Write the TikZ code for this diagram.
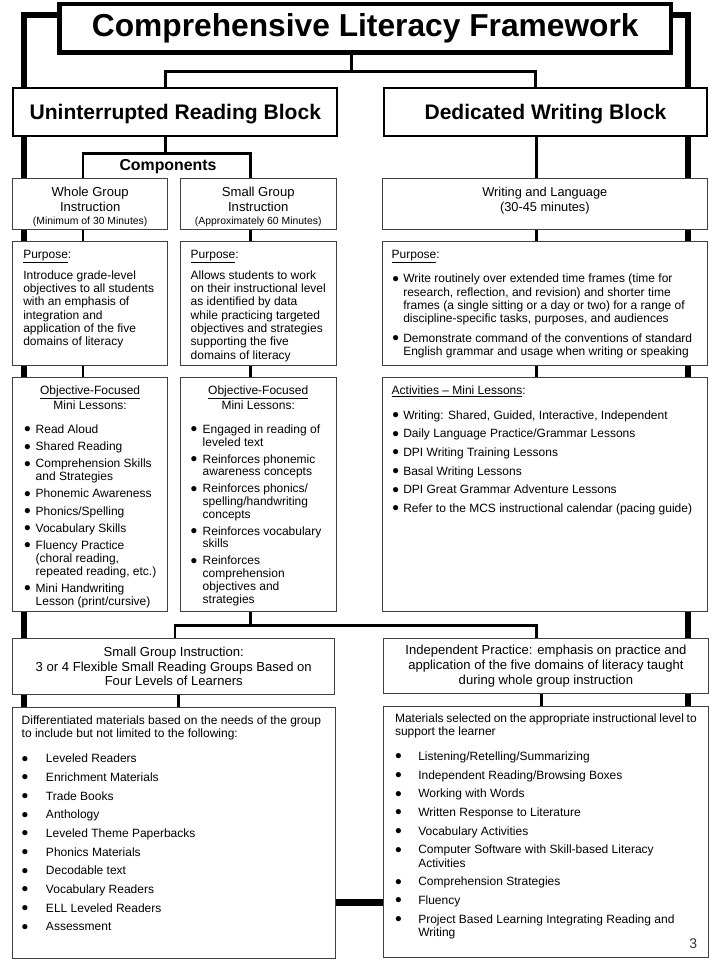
\documentclass[tikz,border=0pt]{standalone}
\usepackage{graphicx}
\usepackage{fontspec}
\setmainfont{Liberation Sans}
\usetikzlibrary{backgrounds}
\newlength{\pxu}\setlength{\pxu}{0.75pt}
\newlength{\itmind}\newlength{\itmgap}\newlength{\itmoff}
\newcommand{\bodyfont}{\fontsize{9}{10}\selectfont}
\newcommand{\introfont}{\fontsize{9.8}{11.25}\selectfont}
\newcommand{\dotmark}{\raisebox{-0.2em}{\scalebox{1.6}{\textbullet}}}
\newcommand{\itm}[2][\itmgap]{\par\vspace{#1}\noindent\hangindent=\itmind\hangafter=1\makebox[\itmind][l]{\hspace*{\itmoff}\dotmark}#2}
% font, width, height, top gap (px), text
\newcommand{\cellbox}[5]{\begin{minipage}[c][#3\pxu][t]{#2\pxu}#1\vspace*{#4\pxu}\strut#5\end{minipage}}
\tikzset{
  framerule/.style={line width=5pt, draw=black},
  link/.style={line width=2pt, draw=black},
  titlenode/.style={draw=black, fill=white, line width=3.6pt, inner sep=0pt, outer sep=0pt, anchor=north west, font=\fontsize{23.8}{28}\selectfont\bfseries},
  blocknode/.style={draw=black, fill=white, line width=1.5pt, inner sep=0pt, outer sep=0pt, anchor=north west, text depth=0pt, font=\fontsize{15.8}{19}\selectfont\bfseries},
  panel/.style={draw=black!75, fill=white, line width=0.75pt, inner ysep=0pt, inner xsep=10\pxu, outer sep=0pt, anchor=north west},
  levelnode/.style={panel, inner sep=0pt, align=center, font=\fontsize{9.8}{11}\selectfont}
}
\begin{document}
\begin{tikzpicture}[x=0.75pt, y=-0.75pt]
  \useasboundingbox (0,0) rectangle (720,960);
  % header and the two blocks
  \node[titlenode, minimum width=611.5\pxu, minimum height=48.8\pxu] (title) at (59.55,3.95) {Comprehensive Literacy Framework};
  \node[blocknode, minimum width=324\pxu, minimum height=48\pxu] (rdblock) at (13.3,88.3) {Uninterrupted Reading Block};
  \node[blocknode, minimum width=323.6\pxu, minimum height=48\pxu] (wrblock) at (383.7,88.3) {Dedicated Writing Block};
  \node[font=\fontsize{11.9}{14}\selectfont\bfseries, anchor=base] (comps) at (168,170.5) {Components};
  % first row
  \node[panel, inner xsep=8\pxu] (wgintro) at (12.8,178.8) {\cellbox{\introfont}{138.7}{50.7}{6.7}{{\centering Whole Group\\Instruction\\[-1.5pt]{\fontsize{7.8}{9}\selectfont(Minimum of 30 Minutes)}\par}}};
  \node[panel, inner xsep=8\pxu] (sgintro) at (180.5,178.8) {\cellbox{\introfont}{139.5}{50.7}{6.7}{{\centering Small Group\\Instruction\\[-1.5pt]{\fontsize{7.8}{9}\selectfont(Approximately 60 Minutes)}\par}}};
  \node[panel, inner xsep=8\pxu] (wlintro) at (382.2,178.8) {\cellbox{\fontsize{9.6}{11.25}\selectfont}{309.3}{50.7}{6.7}{{\centering Writing and Language\\(30-45 minutes)\par}}};
  % purpose row
  \node[panel, inner xsep=10.5\pxu] (wgpurp) at (12.8,241.5) {\cellbox{\bodyfont}{133.7}{124}{7.2}{\underline{Purpose}:\par\vspace{4.5pt}Introduce grade-level\\objectives to all students\\with an emphasis of\\integration and\\application of the five\\domains of literacy}};
  \node[panel, inner xsep=10.2\pxu] (sgpurp) at (180.5,241.5) {\cellbox{\bodyfont}{135.1}{124}{7.2}{\underline{Purpose}:\par\vspace{4.5pt}Allows students to work\\on their instructional level\\as identified by data\\while practicing targeted\\objectives and strategies\\supporting the five\\domains of literacy}};
  \node[panel, inner xsep=9.5\pxu] (wlpurp) at (382.2,241.5) {\cellbox{\bodyfont}{306.3}{124}{7.2}{\setlength{\itmind}{11.6\pxu}\setlength{\itmoff}{0.6\pxu}\setlength{\itmgap}{4.5pt}\underline{Purpose}:\itm[7.25pt]{Write routinely over extended time frames (time for\\research, reflection, and revision) and shorter time\\frames (a single sitting or a day or two) for a range of\\discipline-specific tasks, purposes, and audiences}\itm{Demonstrate command of the conventions of standard\\English grammar and usage when writing or speaking}}};
  % mini lesson row
  \node[panel, inner xsep=11.2\pxu] (wgobj) at (12.8,377.2) {\cellbox{\bodyfont}{132.3}{234.3}{7.5}{\setlength{\itmind}{11.7\pxu}\setlength{\itmoff}{0pt}\setlength{\itmgap}{3.3pt}{\centering\underline{Objective-Focused}\\Mini Lessons:\par}\fontsize{9}{9.6}\selectfont
    \itm[8.6pt]{Read Aloud}\itm{Shared Reading}\itm{Comprehension Skills\\and Strategies}\itm{Phonemic Awareness}\itm{Phonics/Spelling}\itm{Vocabulary Skills}\itm{Fluency Practice\\(choral reading,\\repeated reading, etc.)}\itm{Mini Handwriting\\Lesson (print/cursive)}}};
  \node[panel, inner xsep=10.2\pxu] (sgobj) at (180.5,377.2) {\cellbox{\bodyfont}{135.1}{234.3}{7.5}{\setlength{\itmind}{12\pxu}\setlength{\itmoff}{0pt}\setlength{\itmgap}{3pt}{\centering\underline{Objective-Focused}\\Mini Lessons:\par}\fontsize{9}{9.6}\selectfont
    \itm[8.6pt]{Engaged in reading of\\leveled text}\itm{Reinforces phonemic\\awareness concepts}\itm{Reinforces phonics/\\spelling/handwriting\\concepts}\itm{Reinforces vocabulary\\skills}\itm{Reinforces\\comprehension\\objectives and\\strategies}}};
  \node[panel, inner xsep=9.5\pxu] (wlact) at (382.2,377.2) {\cellbox{\bodyfont}{306.3}{234.3}{7.5}{\setlength{\itmind}{11.6\pxu}\setlength{\itmoff}{0.6\pxu}\setlength{\itmgap}{4pt}\underline{Activities -- Mini Lessons}:
    \itm[8.75pt]{Writing: Shared, Guided, Interactive, Independent}\itm{Daily Language Practice/Grammar Lessons}\itm{DPI Writing Training Lessons}\itm{Basal Writing Lessons}\itm{DPI Great Grammar Adventure Lessons}\itm{Refer to the MCS instructional calendar (pacing guide)}}};
  % small groups and independent practice
  \node[levelnode, minimum width=321.9\pxu, minimum height=55.4\pxu] (sgiblock) at (12.8,638.8) {Small Group Instruction:\\3 or 4 Flexible Small Reading Groups Based on\\Four Levels of Learners};
  \node[levelnode, minimum width=324.2\pxu, minimum height=54.7\pxu] (ipblock) at (383.8,638.8) {Independent Practice: emphasis on practice and\\application of the five domains of literacy taught\\during whole group instruction};
  \node[panel, inner xsep=8.9\pxu] (rdmat) at (12.8,707.6) {\cellbox{\bodyfont}{304.9}{250.4}{7.1}{\setlength{\itmind}{24.3\pxu}\setlength{\itmoff}{0pt}\setlength{\itmgap}{4pt}Differentiated materials based on the needs of the group\\to include but not limited to the following:
    \itm[9pt]{Leveled Readers}\itm{Enrichment Materials}\itm{Trade Books}\itm{Anthology}\itm{Leveled Theme Paperbacks}\itm{Phonics Materials}\itm{Decodable text}\itm{Vocabulary Readers}\itm{ELL Leveled Readers}\itm{Assessment}}};
  \node[panel, inner xsep=11.2\pxu] (ipmat) at (383.8,706.2) {\cellbox{\bodyfont}{301.8}{250.8}{6.8}{\setlength{\itmind}{23.3\pxu}\setlength{\itmoff}{0pt}\setlength{\itmgap}{4pt}Materials selected on the appropriate instructional level to\\support the learner
    \itm[8.5pt]{Listening/Retelling/Summarizing}\itm{Independent Reading/Browsing Boxes}\itm{Working with Words}\itm{Written Response to Literature}\itm{Vocabulary Activities}\itm{Computer Software with Skill-based Literacy\\Activities}\itm{Comprehension Strategies}\itm{Fluency}\itm{Project Based Learning Integrating Reading and\\Writing}}};
  \node[font=\fontsize{10.5}{12}\selectfont, text=black!80] (pagenum) at (693.3,943.3) {3};
  % frame and connectors behind the boxes
  \begin{scope}[on background layer]
    \draw[framerule] (24,15) rectangle (688,902.8);
    \coordinate (topbar) at (351.7,71.3);
    \coordinate (cmpbar) at (165.7,153.3);
    \coordinate (lowbar) at (250.7,625.3);
    \coordinate (rdstem) at (165.7,0);
    \coordinate (wrstem) at (535.5,0);
    \coordinate (wgstem) at (83,0);
    \coordinate (sgstem) at (250.7,0);
    \coordinate (wlstem) at (536.2,0);
    \coordinate (sgistem) at (175,0);
    \coordinate (ipstem) at (536.7,0);
    \coordinate (rdmatstem) at (178.3,0);
    \coordinate (ipmatstem) at (541.7,0);
    \draw[link] (title.south -| topbar) -- (topbar);
    \draw[link] (rdblock.north -| rdstem) |- (topbar) -| (wrblock.north -| wrstem);
    \draw[link] (rdblock.south -| rdstem) -- (cmpbar);
    \draw[link] (wgintro.north -| wgstem) |- (cmpbar) -| (sgintro.north -| sgstem);
    \draw[link] (wrblock.south -| wlstem) -- (wlintro.north -| wlstem);
    \draw[link] (wgintro.south -| wgstem) -- (wgpurp.north -| wgstem);
    \draw[link] (sgintro.south -| sgstem) -- (sgpurp.north -| sgstem);
    \draw[link] (wlintro.south -| wlstem) -- (wlpurp.north -| wlstem);
    \draw[link] (wgpurp.south -| wgstem) -- (wgobj.north -| wgstem);
    \draw[link] (sgpurp.south -| sgstem) -- (sgobj.north -| sgstem);
    \draw[link] (wlpurp.south -| wlstem) -- (wlact.north -| wlstem);
    \draw[link] (sgobj.south -| sgstem) -- (lowbar);
    \draw[link] (sgiblock.north -| sgistem) |- (lowbar) -| (ipblock.north -| ipstem);
    \draw[link] (sgiblock.south -| rdmatstem) -- (rdmat.north -| rdmatstem);
    \draw[link] (ipblock.south -| ipmatstem) -- (ipmat.north -| ipmatstem);
  \end{scope}
\end{tikzpicture}
\end{document}
